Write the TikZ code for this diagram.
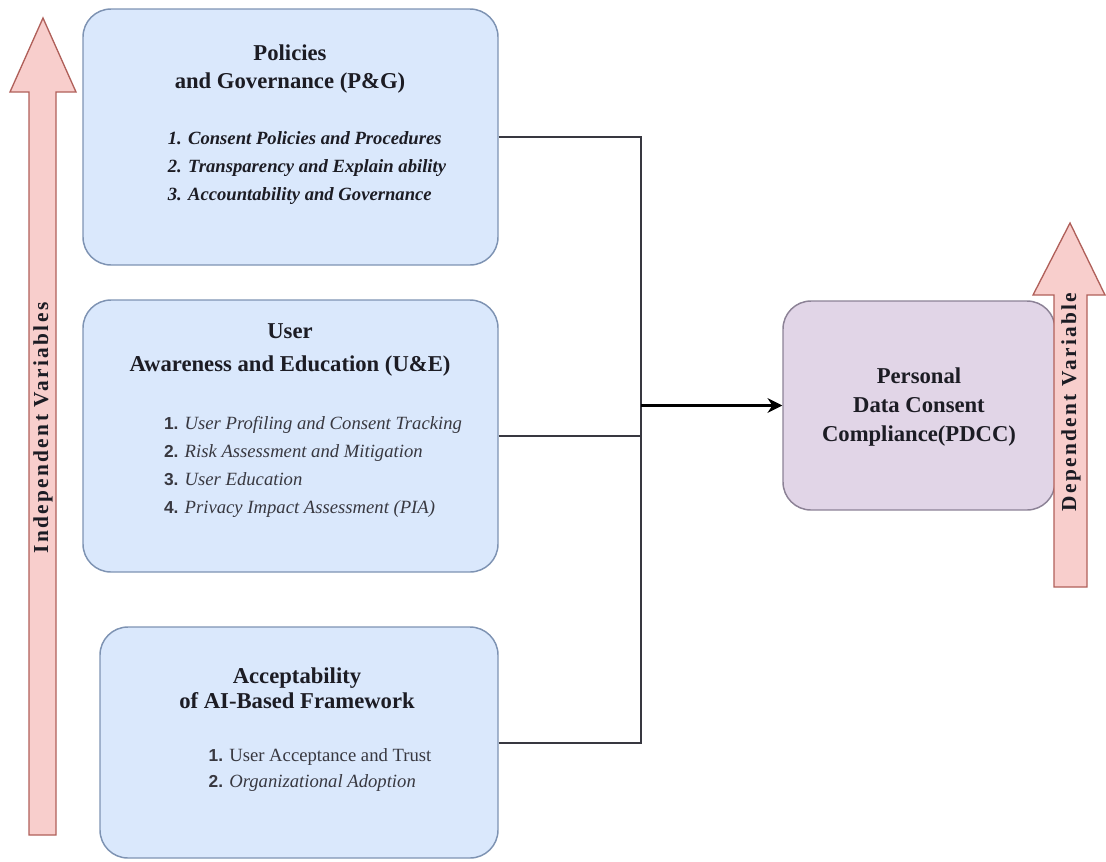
\documentclass[tikz,border=0pt]{standalone}
\usepackage{fontspec}
\setmainfont{Liberation Serif}
\newfontfamily\numfont{Liberation Sans}
\newfontfamily\spacedfont[LetterSpace=11]{Liberation Serif}
\usepackage{tikz}
\usetikzlibrary{arrows.meta}

\definecolor{boxblue}{HTML}{DAE8FC}
\definecolor{boxblueline}{HTML}{7E93B3}
\definecolor{boxpurple}{HTML}{E1D5E7}
\definecolor{boxpurpleline}{HTML}{8C8296}
\definecolor{arrowpink}{HTML}{F8CECC}
\definecolor{arrowline}{HTML}{B0605A}
\definecolor{inkdark}{HTML}{1C1C24}
\definecolor{inkgray}{HTML}{383840}

\begin{document}
\begin{tikzpicture}[x=0.75pt, y=-0.75pt,
	varbox/.style={draw=boxblueline, fill=boxblue, rounded corners=21pt, line width=1.1pt},
	depbox/.style={draw=boxpurpleline, fill=boxpurple, rounded corners=21pt, line width=1.1pt},
	titletext/.style={inner sep=0pt, align=center, text=inkdark, font=\fontsize{17}{21}\selectfont\bfseries},
	listtext/.style={inner sep=0pt, align=left, text=inkdark, font=\fontsize{14}{21}\selectfont},
	bigarrow/.style={draw=arrowline, fill=arrowpink, line width=1pt, line join=miter},
	varlabel/.style={inner sep=0pt, rotate=90, text=inkdark, font=\fontsize{16}{18}\selectfont\spacedfont\bfseries},
	wire/.style={draw=inkgray, line width=1.5pt},
	feed/.style={draw=black, line width=2.2pt, -{Stealth[length=11pt, width=11pt]}}]
		\begingroup
		\useasboundingbox (0,0) rectangle (1106,861);
		
		\draw[bigarrow] (29,835) -- (29,92) -- (10,92) -- (43,18) -- (76,92) -- (56,92) -- (56,835) -- cycle;
		\node[varlabel] (indep) at (43,428) {Independent Variables};
		
		\node[varbox, minimum width=311.25pt, minimum height=192pt] (pg) at (290.5,137) {};
		\node[varbox, minimum width=311.25pt, minimum height=204pt] (ue) at (290.5,436) {};
		\node[varbox, minimum width=298.5pt, minimum height=173.25pt] (ai) at (299,742.5) {};
		\node[depbox, minimum width=204pt, minimum height=156.75pt] (pdcc) at (919,405.5) {};
		
		\node[titletext] (pgtitle) at (290,69) {Policies\\and Governance (P\&G)};
		\node[listtext, font=\fontsize{14}{21}\selectfont\bfseries\itshape] (pglist) at (307,168) {1. Consent Policies and Procedures\\2. Transparency and Explain ability\\3. Accountability and Governance};
		
		\node[titletext, font=\fontsize{17}{25}\selectfont\bfseries] (uetitle) at (290,350) {User\\Awareness and Education (U\&E)};
		\node[listtext, text=inkgray] (uelist) at (313,467) {{\numfont\bfseries\fontsize{13}{21}\selectfont 1.} \textit{User Profiling and Consent Tracking}\\{\numfont\bfseries\fontsize{13}{21}\selectfont 2.} \textit{Risk Assessment and Mitigation}\\{\numfont\bfseries\fontsize{13}{21}\selectfont 3.} \textit{User Education}\\{\numfont\bfseries\fontsize{13}{21}\selectfont 4.} \textit{Privacy Impact Assessment (PIA)}};
		
		\node[titletext, font=\fontsize{17}{19}\selectfont\bfseries] (aititle) at (297,688) {Acceptability\\of AI-Based Framework};
		\node[listtext, text=inkgray, font=\fontsize{14}{19}\selectfont] (ailist) at (320,770) {{\numfont\bfseries\fontsize{13}{19}\selectfont 1.} User Acceptance and Trust\\{\numfont\bfseries\fontsize{13}{19}\selectfont 2.} \textit{Organizational Adoption}};
		
		\node[titletext, font=\fontsize{17}{22}\selectfont\bfseries] (pdcctitle) at (919,407) {Personal\\Data Consent\\Compliance(PDCC)};
		
		\draw[bigarrow] (1054,587) -- (1054,295) -- (1033,295) -- (1070,223) -- (1105,295) -- (1087,295) -- (1087,587) -- cycle;
		\node[varlabel] (dep) at (1071,402) {Dependent Variable};
		
		\coordinate (bus) at (641,405.5);
		\draw[wire] (pg.east) -| (bus);
		\draw[wire] (ue.east) -| (bus);
		\draw[wire] (ai.east) -| (bus);
		\draw[feed] (bus) -- (pdcc.west);
		\endgroup
\end{tikzpicture}
\end{document}
